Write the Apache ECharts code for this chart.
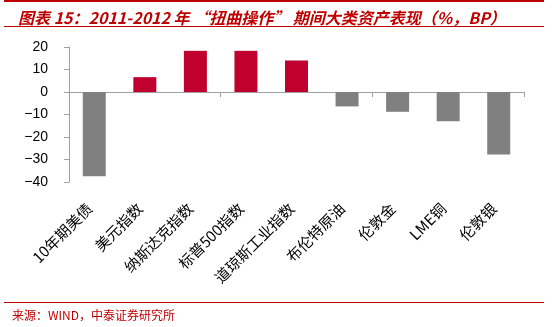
<!DOCTYPE html>
<html>
<head>
<meta charset="utf-8">
<script src="https://cdn.jsdelivr.net/npm/echarts@6/dist/echarts.min.js"></script>
<style>
  html, body { margin: 0; padding: 0; background: #fff; }
  #chart { width: 552px; height: 327px; }
</style>
</head>
<body>
<div id="chart"></div>
<script>
// 2011-2012 “扭曲操作” period: performance of major asset classes (%, BP)
const categories = ['10年期美债', '美元指数', '纳斯达克指数', '标普500指数', '道琼斯工业指数', '布伦特原油', '伦敦金', 'LME铜', '伦敦银'];
const values = [-37.4, 6.6, 18.3, 18.3, 14.0, -6.4, -8.8, -13.0, -27.8];
const yTicks = { min: -40, max: 20, interval: 10 };

const RED = '#C0002F';
const GRAY = '#808080';
const TITLE_RED = '#C00000';

const chart = echarts.init(document.getElementById('chart'), null, { renderer: 'canvas' });

chart.setOption({
  animation: false,
  backgroundColor: '#fff',
  grid: { left: 69, right: 28, top: 47, bottom: 145, containLabel: false },
  title: {
    text: '图表 15：2011-2012 年 “扭曲操作” 期间大类资产表现（%，BP）',
    left: 13, top: 5,
    textStyle: {
      color: TITLE_RED, fontSize: 16, fontWeight: 'bold', fontStyle: 'italic',
      fontFamily: '"Noto Sans CJK SC", sans-serif'
    }
  },
  graphic: [
    { type: 'rect', shape: { x: 4, y: 0, width: 540, height: 2 }, style: { fill: TITLE_RED } },
    { type: 'rect', shape: { x: 4, y: 26, width: 540, height: 1 }, style: { fill: TITLE_RED } },
    { type: 'rect', shape: { x: 4, y: 302, width: 540, height: 1 }, style: { fill: TITLE_RED } },
    {
      type: 'text', left: 12, top: 309,
      style: {
        text: '来源：WIND，中泰证券研究所', fill: TITLE_RED,
        font: '12px "Noto Sans CJK SC", sans-serif'
      }
    }
  ],
  xAxis: [
    {
      type: 'category', data: categories,
      axisLine: { onZero: true, lineStyle: { color: '#A0A0A0', width: 1 } },
      axisTick: { show: true, length: 5, lineStyle: { color: '#A0A0A0' } },
      axisLabel: { show: false },
      splitLine: { show: false }
    },
    {
      type: 'category', data: categories, position: 'bottom',
      axisLine: { show: false, onZero: false },
      axisTick: { show: false },
      axisLabel: {
        rotate: 45, margin: 19, interval: 0,
        padding: [0, 7, 0, 0],
        color: '#000', fontSize: 15,
        fontFamily: '"Noto Sans CJK SC", sans-serif'
      }
    }
  ],
  yAxis: {
    type: 'value', min: yTicks.min, max: yTicks.max, interval: yTicks.interval,
    axisLine: { show: true, lineStyle: { color: '#A0A0A0', width: 1 } },
    axisTick: { show: true, length: 5, lineStyle: { color: '#A0A0A0' } },
    splitLine: { show: false },
    axisLabel: {
      margin: 21, color: '#000', fontSize: 14,
      fontFamily: 'Arial, "Liberation Sans", sans-serif',
      formatter: v => String(v).replace('-', '\u2212')
    }
  },
  series: [{
    type: 'bar', xAxisIndex: 0,
    data: values.map(v => ({ value: v, itemStyle: { color: v >= 0 ? RED : GRAY } })),
    barWidth: 23
  }]
});
</script>
</body>
</html>
